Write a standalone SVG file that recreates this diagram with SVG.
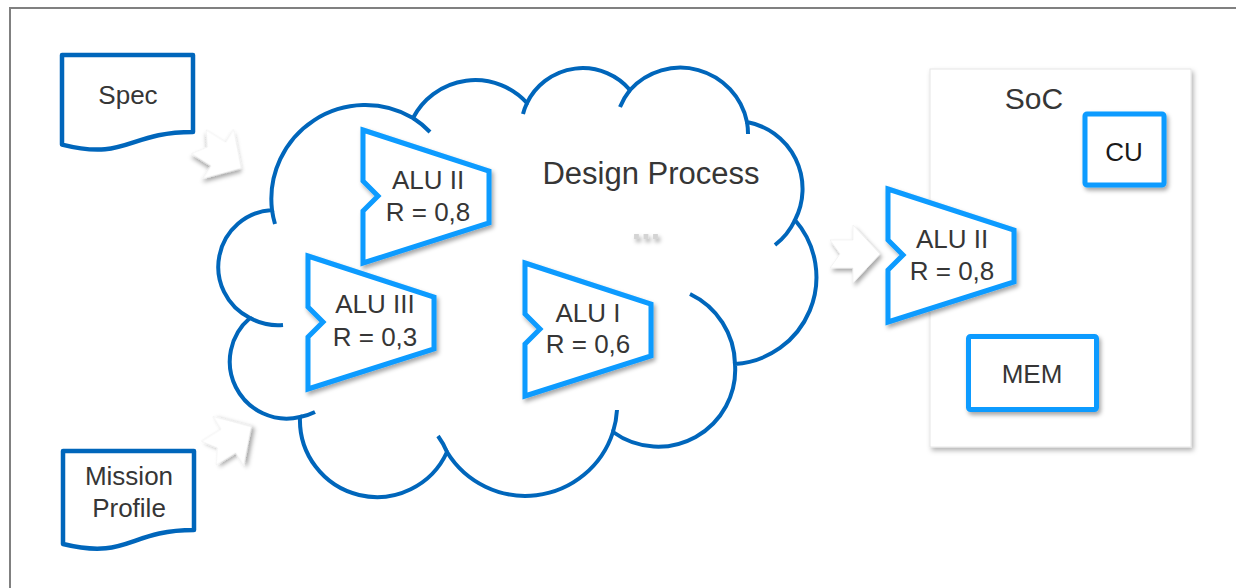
<svg xmlns="http://www.w3.org/2000/svg" xmlns:xlink="http://www.w3.org/1999/xlink" width="1236" height="588" viewBox="0 0 1236 588">
<defs>
<filter id="sh" x="-20%" y="-20%" width="150%" height="150%">
<feDropShadow dx="2" dy="3" stdDeviation="2" flood-color="#000" flood-opacity="0.35"/>
</filter>
<filter id="shs" x="-10%" y="-10%" width="130%" height="130%">
<feDropShadow dx="2" dy="3" stdDeviation="2.5" flood-color="#000" flood-opacity="0.3"/>
</filter>
<path id="alu" d="M0,0 L126,41 L126,93 L0,133 L0,81 L15,66 L0,51 Z"/>
<path id="arr" d="M-25,-14 L-2,-14 L-2,-29 L25,0 L-2,29 L-2,14 L-25,14 L-15,0 Z"/>
<style>
.t{font-family:"Liberation Sans",Arial,sans-serif;font-size:26px;fill:#363636;text-anchor:middle}
.alu{fill:#fff;stroke:#0A9BFF;stroke-width:5;stroke-linejoin:miter;filter:url(#sh)}
.box{fill:#fff;stroke:#0A9BFF;stroke-width:5;filter:url(#sh)}
.doc{fill:#fff;stroke:#0066BB;stroke-width:4.5;stroke-linejoin:round}
.cl{fill:none;stroke:#0066BB;stroke-width:4}
.ar{fill:#fff;stroke:#ececec;stroke-width:0.6;filter:url(#sh)}
</style>
</defs>
<rect width="1236" height="588" fill="#fff"/>
<path id="frame" d="M10,588 V8 H1236" fill="none" stroke="#808080" stroke-width="2"/>

<g id="design-process">
<path class="cl" d="M250,318 A57 57 0 0 1 272,210 A94 94 0 0 1 413,118 A70 70 0 0 1 527,103 A62 62 0 0 1 630,90 A68 68 0 0 1 747,122 A68 68 0 0 1 795,220 A87 87 0 0 1 735,364 A77 77 0 0 1 613,432 A92 92 0 0 1 447,452 A77 77 0 0 1 300,417 A57 57 0 0 1 250,318 Z" style="fill:#fff"/>
<path class="cl" d="M272,210 A94 94 0 0 0 275,224 M413,118 A94 94 0 0 1 430,132 M527,103 A62 62 0 0 0 523,114 M630,90 A68 68 0 0 0 620,107 M747,122 A68 68 0 0 1 748,134 M795,220 A68 68 0 0 1 775,245 M735,364 A79 79 0 0 0 690,294 M613,432 A92 92 0 0 0 617,410 M447,452 A77 77 0 0 0 438,436 M300,417 A57 57 0 0 0 315,412 M250,318 A58 58 0 0 0 283,325"/>
<text class="t" x="651" y="184" style="font-size:31px">Design Process</text>
<text class="t" x="646" y="239" style="font-size:34px;font-weight:bold;fill:#d4d4d4;filter:url(#sh)">...</text>
</g>

<g id="spec">
<path class="doc" d="M62,55 H193 V132 C127.5,132 127.5,161 62,144.6 Z"/>
<text class="t" x="128" y="104">Spec</text>
</g>

<g id="mission-profile">
<path class="doc" d="M63,451 H194 V530 C128.5,530 128.5,560 63,544 Z"/>
<text class="t" x="129" y="485">Mission</text>
<text class="t" x="129" y="517">Profile</text>
</g>

<g id="alu-ii">
<use href="#alu" class="alu" x="363" y="130"/>
<text class="t" x="428" y="189">ALU II</text>
<text class="t" x="428" y="221">R = 0,8</text>
</g>

<g id="alu-iii">
<use href="#alu" class="alu" x="308" y="256"/>
<text class="t" x="375" y="313">ALU III</text>
<text class="t" x="375" y="346">R = 0,3</text>
</g>

<g id="alu-i">
<use href="#alu" class="alu" x="525" y="263"/>
<text class="t" x="588" y="322">ALU I</text>
<text class="t" x="588" y="353">R = 0,6</text>
</g>

<g id="soc">
<rect x="930" y="69" width="261" height="378" fill="#fff" stroke="#e6e6e6" stroke-width="1" filter="url(#shs)"/>
<text class="t" x="1034" y="109" style="font-size:30px">SoC</text>
</g>

<g id="cu">
<rect class="box" x="1085" y="114" width="79" height="71" rx="2"/>
<text class="t" x="1124" y="161" style="fill:#1a1a1a">CU</text>
</g>

<g id="mem">
<rect class="box" x="968.5" y="336.5" width="128" height="73" rx="2"/>
<text class="t" x="1032" y="383">MEM</text>
</g>

<g id="alu-ii-soc">
<use href="#alu" class="alu" x="888" y="189"/>
<text class="t" x="952" y="248">ALU II</text>
<text class="t" x="952" y="280">R = 0,8</text>
</g>

<g id="connectors">
<use href="#arr" class="ar" transform="translate(220,155) rotate(32)"/>
<use href="#arr" class="ar" transform="translate(230,440) rotate(-32)"/>
<use href="#arr" class="ar" transform="translate(855,254)"/>
</g>
</svg>
